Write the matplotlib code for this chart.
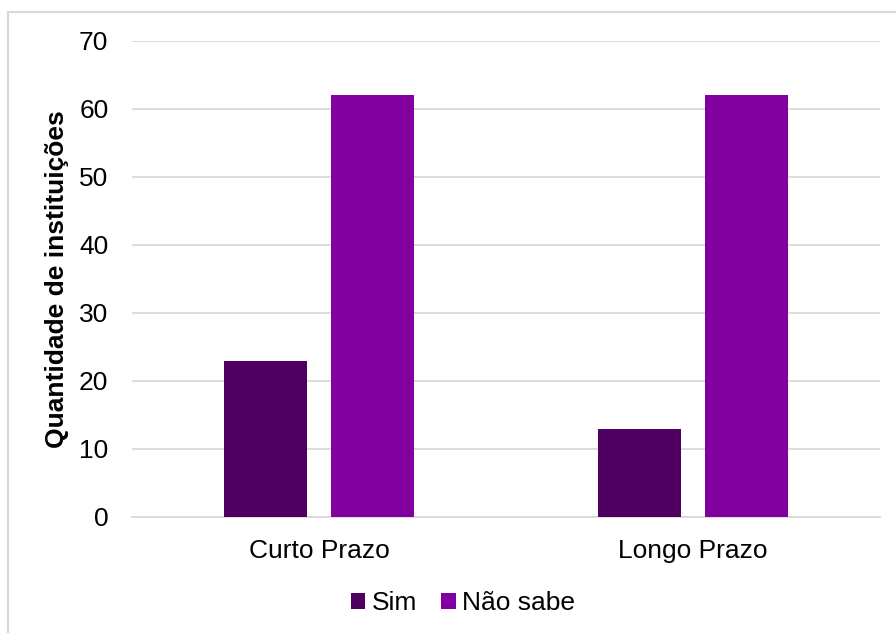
import numpy as np
import matplotlib
matplotlib.use("Agg")
import matplotlib.pyplot as plt
from matplotlib.patches import Patch, Rectangle

# data
categories = ["Curto Prazo", "Longo Prazo"]
sim = [23, 13]
nao_sabe = [62, 62]
series_names = ["Sim", "Não sabe"]
yticks = [0, 10, 20, 30, 40, 50, 60, 70]

cor_sim = "#4F0060"
cor_nao = "#8200A0"
grid_gray = "#D9D9D9"

plt.rcParams["font.family"] = ["Liberation Sans", "DejaVu Sans"]
fs = 19

fig = plt.figure(figsize=(8.96, 6.33), dpi=100)
ax = fig.add_axes([132/896, 1 - 517/633, (880 - 132)/896, (517 - 41)/633])

x = np.arange(len(categories))
w = 0.222
off = 0.142
ax.bar(x - off, sim, width=w, color=cor_sim, zorder=3)
ax.bar(x + off, nao_sabe, width=w, color=cor_nao, zorder=3)

ax.set_xlim(-0.5, len(categories) - 0.5)
ax.set_ylim(0, 70)
ax.set_yticks(yticks)
ax.set_xticks(x)
ax.set_xticklabels(categories)
ax.tick_params(axis="both", length=0, labelsize=fs)
ax.tick_params(axis="y", pad=17)
ax.tick_params(axis="x", pad=16)

ax.yaxis.grid(True, color=grid_gray, linewidth=1.3, zorder=0)
for s in ["top", "right", "left"]:
    ax.spines[s].set_visible(False)
ax.spines["bottom"].set_color(grid_gray)
ax.spines["bottom"].set_linewidth(1.3)

ax.set_ylabel("Quantidade de instituições", fontsize=fs, fontweight="bold",
              va="center")
ax.yaxis.set_label_coords((57 - 132)/748, 0.5)

handles = [Patch(facecolor=cor_sim), Patch(facecolor=cor_nao)]
fig.legend(handles, series_names, loc="center", bbox_to_anchor=(463/896, 1 - 603/633),
           ncol=2, frameon=False, fontsize=fs, handlelength=0.55, handleheight=0.55,
           handletextpad=0.25, columnspacing=0.9)

# outer chart border (runs off the right and bottom edges)
fig.patches.append(Rectangle((8/896, -0.1), 2, 1 - 12/633 + 0.1, transform=fig.transFigure,
                             fill=False, edgecolor=grid_gray, linewidth=1.5))

fig.savefig("out.png", dpi=100)
